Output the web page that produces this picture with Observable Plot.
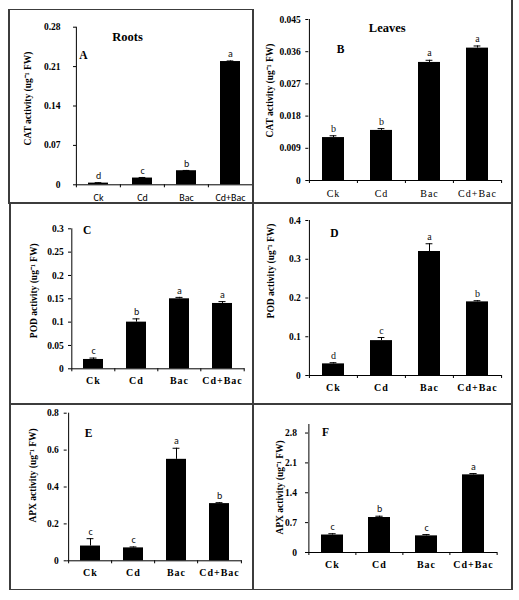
<!DOCTYPE html>
<html><head><meta charset="utf-8">
<script src="https://cdn.jsdelivr.net/npm/d3@7"></script>
<script src="https://cdn.jsdelivr.net/npm/@observablehq/plot@0.6"></script>
<style>
html,body{margin:0;padding:0;background:#fff}
#root{position:relative;width:519px;height:600px;overflow:hidden;background:#fff}
.panel{position:absolute}
.panel svg{overflow:visible}
.line{position:absolute;background:#3c3c3c}
.spaced g[aria-label="x-axis tick label"] text{letter-spacing:1px}
</style></head><body>
<div id="root"></div>
<script>
// ---------- data ----------
const treatments = ["Ck", "Cd", "Bac", "Cd+Bac"];

const catRoots = [0.003, 0.012, 0.025, 0.219];
const catRootsErr = [0.0008, 0.001, 0.0005, 0.001];
const catRootsLetters = ["d", "c", "b", "a"];
const catRootsTicks = [0, 0.07, 0.14, 0.21, 0.28];

const catLeaves = [0.012, 0.014, 0.033, 0.037];
const catLeavesErr = [0.0005, 0.0005, 0.0006, 0.0006];
const catLeavesLetters = ["b", "b", "a", "a"];
const catLeavesTicks = [0, 0.009, 0.018, 0.027, 0.036, 0.045];

const podRoots = [0.02, 0.1, 0.15, 0.14];
const podRootsErr = [0.003, 0.007, 0.003, 0.004];
const podRootsLetters = ["c", "b", "a", "a"];
const podRootsTicks = [0, 0.05, 0.1, 0.15, 0.2, 0.25, 0.3];

const podLeaves = [0.03, 0.09, 0.32, 0.19];
const podLeavesErr = [0.003, 0.008, 0.02, 0.003];
const podLeavesLetters = ["d", "c", "a", "b"];
const podLeavesTicks = [0, 0.1, 0.2, 0.3, 0.4];

const apxRoots = [0.08, 0.07, 0.55, 0.31];
const apxRootsErr = [0.04, 0.005, 0.06, 0.005];
const apxRootsLetters = ["c", "c", "a", "b"];
const apxRootsTicks = [0, 0.2, 0.4, 0.6, 0.8];

const apxLeaves = [0.41, 0.82, 0.39, 1.82];
const apxLeavesErr = [0.03, 0.03, 0.03, 0.03];
const apxLeavesLetters = ["c", "b", "c", "a"];
const apxLeavesTicks = [0, 0.7, 1.4, 2.1, 2.8];

const yTitles = {
  CAT: "CAT activity (ug\u207B\u00B9 FW)",
  POD: "POD activity (ug\u207B\u00B9 FW)",
  APX: "APX activity (ug\u207B\u00B9 FW)"
};
const panelLetters = ["A", "B", "C", "D", "E", "F"];
const tissueTitles = ["Roots", "Leaves"];

// ---------- layout / style ----------
const SERIF = "'Liberation Serif', 'Times New Roman', serif";
const SANS = "Carlito, Lato, 'Liberation Sans', sans-serif";

const panels = [
  {values: catRoots, errors: catRootsErr, letters: catRootsLetters, ticks: catRootsTicks, ymax: 0.28, title: yTitles.CAT,
   left: 8, top: 9, width: 245, height: 194, ml: 68, mr: 0, mt: 17.7, mb: 18.7,
   xPad: 9, yPad: 13, tdx: -49, tdy: -7.5, letter: panelLetters[0], ldx: 7, ldy: 28.3,
   head: tissueTitles[0], hdx: 51, hdy: 9.3,
   xFont: SANS, xWeight: "normal", spaced: false, gFont: SANS},
  {values: catLeaves, errors: catLeavesErr, letters: catLeavesLetters, ticks: catLeavesTicks, ymax: 0.045, title: yTitles.CAT,
   left: 253, top: 0, width: 259, height: 203, ml: 55.3, mr: 11, mt: 19, mb: 23,
   xPad: 9.5, yPad: 5, tdx: -39.3, tdy: -9.5, letter: panelLetters[1], ldx: 31.7, ldy: 30,
   head: tissueTitles[1], hdx: 78.4, hdy: 8,
   xFont: SERIF, xWeight: "normal", spaced: true, gFont: SERIF},
  {values: podRoots, errors: podRootsErr, letters: podRootsLetters, ticks: podRootsTicks, ymax: 0.3, title: yTitles.POD,
   left: 8, top: 203, width: 245, height: 201, ml: 63, mr: 8.5, mt: 25.3, mb: 35.7,
   xPad: 8, yPad: 4.7, tdx: -38, tdy: -8, letter: panelLetters[2], ldx: 15.7, ldy: 1.7,
   xFont: SERIF, xWeight: "bold", spaced: true, gFont: SANS},
  {values: podLeaves, errors: podLeavesErr, letters: podLeavesLetters, ticks: podLeavesTicks, ymax: 0.4, title: yTitles.POD,
   left: 253, top: 203, width: 259, height: 201, ml: 55.3, mr: 11, mt: 17, mb: 29,
   xPad: 8.5, yPad: 5, tdx: -38.3, tdy: -27, letter: panelLetters[3], ldx: 25.7, ldy: 13,
   xFont: SERIF, xWeight: "bold", spaced: true, gFont: SERIF},
  {values: apxRoots, errors: apxRootsErr, letters: apxRootsLetters, ticks: apxRootsTicks, ymax: 0.8, title: yTitles.APX,
   left: 9, top: 404, width: 244, height: 185, ml: 57.7, mr: 11.3, mt: 8.7, mb: 28.7,
   xPad: 8.5, yPad: 5.4, tdx: -34.7, tdy: -11.5, letter: panelLetters[4], ldx: 21.3, ldy: 20.3,
   xFont: SERIF, xWeight: "bold", spaced: true, gFont: SANS},
  {values: apxLeaves, errors: apxLeavesErr, letters: apxLeavesLetters, ticks: apxLeavesTicks, ymax: 3.0, title: yTitles.APX,
   left: 253, top: 404, width: 259, height: 185, ml: 55, mr: 15, mt: 20, mb: 37,
   xPad: 8, yPad: 8.6, tdx: -29, tdy: -1, letter: panelLetters[5], ldx: 17, ldy: 8,
   xFont: SERIF, xWeight: "bold", spaced: true, gFont: SANS}
];

const PAD = 0.54;
const fmt = d => String(+d.toFixed(3));

function makePanel(cfg) {
  const data = treatments.map((t, i) => ({t, v: cfg.values[i], e: cfg.errors[i], g: cfg.letters[i]}));
  const step = (cfg.width - cfg.ml - cfg.mr) / treatments.length;
  const bw = step * (1 - PAD);
  const cap = Math.max(0, (bw - 7) / 2);
  const marks = [
    Plot.barY(data, {x: "t", y: "v", fill: "#000"}),
    Plot.ruleX(data, {x: "t", y1: "v", y2: d => d.v + d.e, stroke: "#000", strokeWidth: 1}),
    Plot.tickY(data, {x: "t", y: d => d.v + d.e, stroke: "#000", strokeWidth: 1, insetLeft: cap, insetRight: cap}),
    Plot.text(data, {x: "t", y: d => d.v + d.e, text: "g", dy: -7, fontFamily: cfg.gFont, fontSize: 10, fill: "#111"}),
    // axis lines
    Plot.ruleY([0], {stroke: "#000", strokeWidth: 1}),
    Plot.ruleX([treatments[0]], {x: d => d, dx: -step / 2, stroke: "#000", strokeWidth: 1}),
    // category-boundary tick marks
    Plot.ruleX(treatments, {x: d => d, dx: -step / 2, y1: 0, y2: 0, insetBottom: -3, stroke: "#000"}),
    Plot.ruleX([treatments[treatments.length - 1]], {x: d => d, dx: step / 2, y1: 0, y2: 0, insetBottom: -3, stroke: "#000"}),
    Plot.axisY({ticks: cfg.ticks, tickSize: 3, tickPadding: cfg.yPad, tickFormat: fmt, label: null,
      fontFamily: SERIF, fontWeight: "bold", fontSize: 9.5, fill: "#000"}),
    Plot.axisX({tickSize: 0, tickPadding: cfg.xPad, label: null,
      fontFamily: cfg.xFont, fontWeight: cfg.xWeight, fontSize: 10, fill: "#000"}),
    Plot.text([cfg.title], {frameAnchor: "left", rotate: -90, dx: cfg.tdx, dy: cfg.tdy,
      textAnchor: "middle", lineAnchor: "middle",
      fontFamily: SERIF, fontWeight: "bold", fontSize: 9.5, fill: "#000"}),
    Plot.text([cfg.letter], {frameAnchor: "top-left", dx: cfg.ldx, dy: cfg.ldy, textAnchor: "middle", lineAnchor: "middle",
      fontFamily: SERIF, fontWeight: "bold", fontSize: 11.5, fill: "#000"})
  ];
  if (cfg.head) {
    marks.push(Plot.text([cfg.head], {frameAnchor: "top-left", dx: cfg.hdx, dy: cfg.hdy, textAnchor: "middle", lineAnchor: "middle",
      fontFamily: SERIF, fontWeight: "bold", fontSize: 12.5, fill: "#000"}));
  }
  const chart = Plot.plot({
    width: cfg.width, height: cfg.height,
    marginLeft: cfg.ml, marginRight: cfg.mr, marginTop: cfg.mt, marginBottom: cfg.mb,
    style: {background: "transparent", fontFamily: SERIF, overflow: "visible"},
    x: {domain: treatments, paddingInner: PAD, paddingOuter: PAD / 2, axis: null},
    y: {domain: [0, cfg.ymax], axis: null},
    marks
  });
  const div = document.createElement("div");
  div.className = "panel" + (cfg.spaced ? " spaced" : "");
  div.style.left = cfg.left + "px";
  div.style.top = cfg.top + "px";
  div.appendChild(chart);
  return div;
}

const root = document.getElementById("root");
for (const p of panels) root.appendChild(makePanel(p));

// panel frame lines
const frameLines = [
  {x: 8, y: 8.5, w: 245.5, h: 1.5},
  {x: 8, y: 8.5, w: 1.5, h: 195},
  {x: 9, y: 202, w: 1.5, h: 388},
  {x: 252.3, y: 8.5, w: 1.5, h: 581},
  {x: 511, y: 0, w: 1.5, h: 590},
  {x: 8, y: 202, w: 504.5, h: 1.5},
  {x: 9, y: 403, w: 503.5, h: 1.5},
  {x: 9, y: 588.5, w: 503.5, h: 1.5}
];
for (const l of frameLines) {
  const d = document.createElement("div");
  d.className = "line";
  Object.assign(d.style, {left: l.x + "px", top: l.y + "px", width: l.w + "px", height: l.h + "px"});
  root.appendChild(d);
}
</script>
</body></html>
